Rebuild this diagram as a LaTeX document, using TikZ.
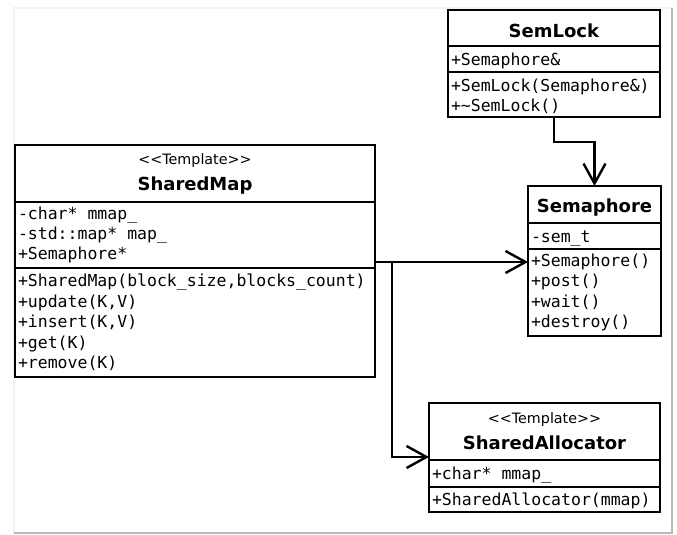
\documentclass[tikz,border=0pt]{standalone}
\usepackage{fontspec}
\setmainfont{DejaVu Sans}
\newfontfamily\monofam{DejaVu Sans Mono}
\usetikzlibrary{arrows.meta}
\newcommand{\tmpl}{{\fontsize{14.3}{17}\selectfont <{}<Template>{}>}}
\newcommand{\msp}{\hspace*{0.602em}}
\newcommand{\lowstrut}{\rule{0pt}{16pt}}
\tikzset{
  comp/.style={draw, line width=2.4pt, anchor=north west, inner ysep=0pt, outer sep=0pt, minimum height=#1},
  membs/.style={comp=#1, align=left, inner xsep=3pt, font=\monofam\fontsize{16.5}{20.4}\selectfont},
  head/.style={comp=#1, align=center, inner xsep=0pt, font=\fontsize{18}{26}\selectfont},
  arr/.style={line width=2.4pt, -{Straight Barb[length=20pt, width=22pt, line width=2.4pt]}},
  frameline/.style={line width=1.5pt}
}
\begin{document}
\begin{tikzpicture}[x=1pt, y=-1pt]
\useasboundingbox (0,0) rectangle (677,535);
% faint frame
\draw[frameline, gray!10] (14,533) -- (14,8) -- (672,8);
\draw[frameline, gray!55] (672,8) -- (672,533) -- (14,533);

% SemLock
\node[head=36pt, text width=212pt] (slhead) at (448,10) {\rule{0pt}{19pt}\textbf{SemLock}};
\node[membs=26pt, text width=206pt] (slattr) at (448,46) {\lowstrut+Semaphore\&};
\node[membs=45pt, text width=206pt] (slmeth) at (448,72) {\lowstrut+SemLock(Semaphore\&)\\+\textasciitilde SemLock()};

% Semaphore
\node[head=37pt, text width=133pt] (semhead) at (528,186) {\rule{0pt}{20pt}\textbf{Semaphore}};
\node[membs=26pt, text width=127pt] (semattr) at (528,223) {\lowstrut-sem\_t};
\node[membs=87pt, text width=127pt] (semmeth) at (528,249) {+Semaphore()\\+post()\\+wait()\\+destroy()};

% SharedMap
\node[head=57pt, text width=360pt] (smhead) at (15,145) {\tmpl\\\textbf{SharedMap}};
\node[membs=66pt, text width=354pt] (smattr) at (15,202) {-char*\msp mmap\_\\-std::map*\msp map\_\\+Semaphore*};
\node[membs=109pt, text width=354pt] (smmeth) at (15,268) {+SharedMap(block\_size,blocks\_count)\\+update(K,V)\\+insert(K,V)\\+get(K)\\+remove(K)};

% SharedAllocator
\node[head=57pt, text width=231pt] (sahead) at (429,403) {\tmpl\\\textbf{SharedAllocator}};
\node[membs=27pt, text width=225pt] (saattr) at (429,460) {\lowstrut+char*\msp mmap\_};
\node[membs=25pt, text width=225pt] (sameth) at (429,487) {\lowstrut+SharedAllocator(mmap)};

% connectors
\coordinate (br) at ([xshift=17pt, yshift=6pt]smattr.south east);
\draw[arr] ([yshift=6pt]smattr.south east) -- ([yshift=6pt]smattr.south east -| semmeth.west);
\draw[arr] (br) |- ([yshift=3pt]sahead.south west);
\draw[arr] (slmeth.south) -- ++(0,25) -| (semhead.north);
\end{tikzpicture}
\end{document}
